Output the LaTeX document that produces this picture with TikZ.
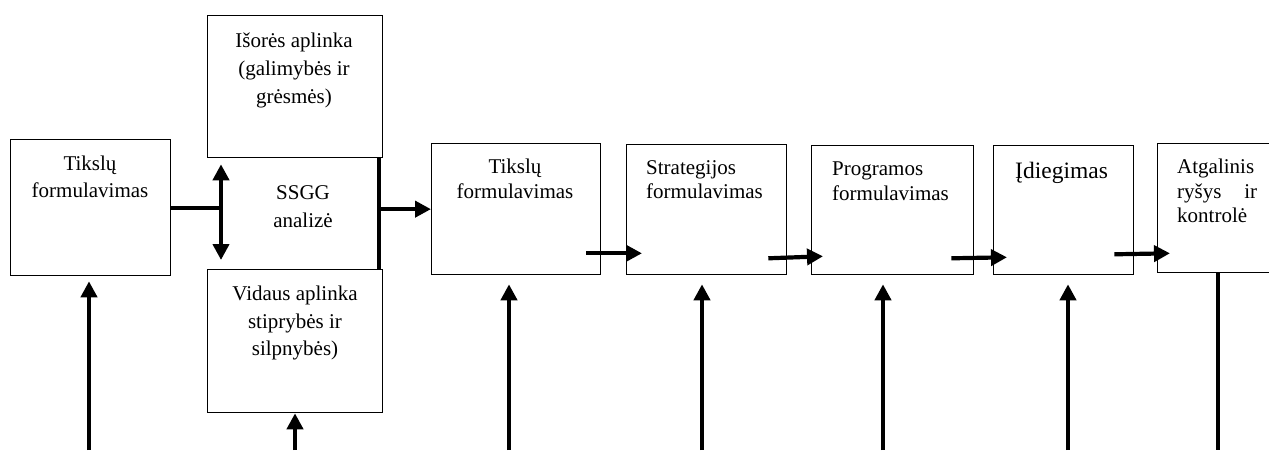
\documentclass[tikz,border=0pt]{standalone}
\usepackage{fontspec}
\setmainfont{Liberation Serif}
\usetikzlibrary{arrows.meta,calc}

\begin{document}
\begin{tikzpicture}[x=1pt,y=-1pt,
  box/.style={draw, line width=1.3pt, anchor=north west, inner sep=0pt},
  txt/.style={font=\fontsize{21}{27}\selectfont, inner sep=0pt},
  tip/.style={-{Triangle[length=16pt,width=16pt]}},
  flow/.style={line width=4.2pt, tip},
  both/.style={line width=4.2pt, {Triangle[length=16pt,width=16pt]}-{Triangle[length=16pt,width=16pt]}},
  bar/.style={line width=4.2pt}]

\clip (0,0) rectangle (1269,450);
\fill[white] (0,0) rectangle (1269,450);

% boxes
\node[box, minimum width=160pt, minimum height=136pt] (b1)  at (10,139)  {};
\node[box, minimum width=175pt, minimum height=142pt] (ext) at (207,15)  {};
\node[box, minimum width=175pt, minimum height=143pt] (int) at (207,269) {};
\node[box, minimum width=169pt, minimum height=131pt] (b2)  at (431,143) {};
\node[box, minimum width=160pt, minimum height=130pt] (st)  at (626,144) {};
\node[box, minimum width=162pt, minimum height=129pt] (pr)  at (811,145) {};
\node[box, minimum width=140pt, minimum height=129pt] (id)  at (993,145) {};
\node[box, minimum width=140pt, minimum height=129pt] (fb)  at (1157,143) {};

% texts (anchored at the baseline of their last line)
\node[txt, align=center, anchor=base] (t1) at (90,197) {Tikslų\\formulavimas};
\node[txt, align=center, anchor=base] (te) at (294,103) {Išorės aplinka\\[1pt](galimybės ir\\[1pt]grėsmės)};
\node[txt, align=center, anchor=base] (ts) at (303,227) {SSGG\\[1pt]analizė};
\node[txt, align=center, anchor=base] (ti) at (295,355) {Vidaus aplinka\\[1pt]stiprybės ir\\[0pt]silpnybės)};
\node[txt, align=center, anchor=base] (t2) at (515,198) {Tikslų\\[-2pt]formulavimas};
\node[txt, align=left, anchor=base west] (tst) at (646,198) {Strategijos\\[-3pt]formulavimas};
\node[txt, align=left, anchor=base west] (tpr) at (832,200) {Programos\\[-2pt]formulavimas};
\node[txt, font=\fontsize{23.5}{28}\selectfont, anchor=base west] (tid) at (1015,178) {Įdiegimas};
\node[txt, align=left, anchor=base west] (tfb) at (1177,222) {Atgalinis\\[-2pt]\makebox[80pt][s]{ryšys ir}\\[-3pt]kontrolė};

% SSGG junction
\coordinate (jx) at (221,205);
\draw[bar] (b1.east) -- (b1.east -| jx);
\draw[both, shorten <=6pt, shorten >=9pt] (ext.south -| jx) -- (int.north -| jx);
\coordinate (bx) at (378,208);
\draw[bar] ([xshift=-4pt]ext.south east) -- ([xshift=-4pt]int.north east);
\draw[flow] (b2.west -| bx) -- (b2.west);

% chain of steps
\draw[flow] ($(b2.south east)+(-15,-22)$) -- ($(st.south west)+(16,-22)$);
\draw[flow] ($(st.south east)+(-19,-17)$) -- ($(pr.south west)+(12,-19)$);
\draw[flow] ($(pr.south east)+(-23,-17)$) -- ($(id.south west)+(14,-18)$);
\draw[flow] ($(id.south east)+(-20,-21)$) -- ($(fb.south west)+(13,-20)$);

% inputs from below
\coordinate (u1) at (89,450);
\coordinate (u2) at (295,450);
\coordinate (u3) at (509,450);
\coordinate (u4) at (702,450);
\coordinate (u5) at (883,450);
\coordinate (u6) at (1068,450);
\coordinate (u7) at (1218,450);
\draw[flow, shorten >=5pt] (u1) -- (u1 |- b1.south);
\draw[flow] (u2) -- (u2 |- int.south);
\draw[flow, shorten >=9pt] (u3) -- (u3 |- b2.south);
\draw[flow, shorten >=9pt] (u4) -- (u4 |- st.south);
\draw[flow, shorten >=9pt] (u5) -- (u5 |- pr.south);
\draw[flow, shorten >=9pt] (u6) -- (u6 |- id.south);
\draw[bar] (fb.south -| u7) -- (u7);
\end{tikzpicture}
\end{document}
